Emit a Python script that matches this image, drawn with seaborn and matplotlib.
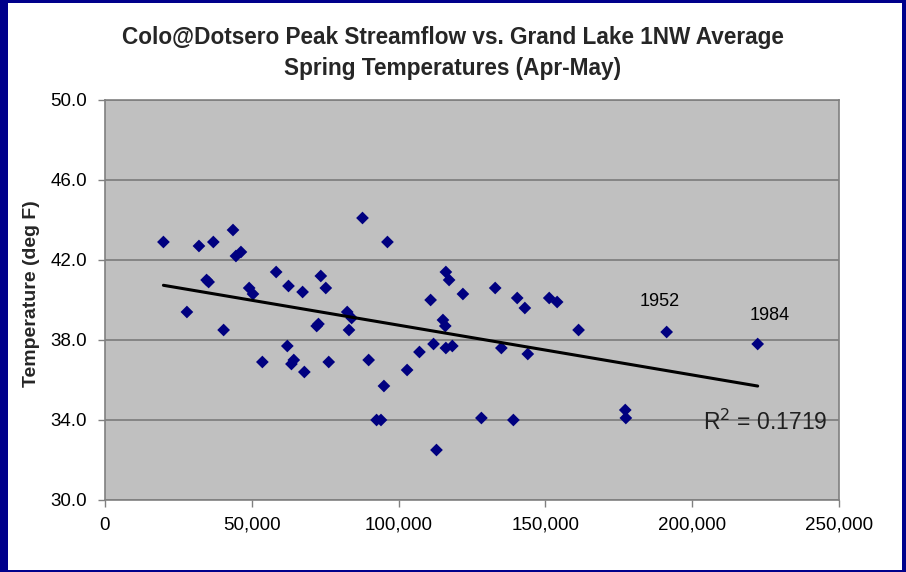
import numpy as np
import pandas as pd
import matplotlib
matplotlib.use('Agg')
import matplotlib.pyplot as plt
from matplotlib.patches import Rectangle
from matplotlib.ticker import StrMethodFormatter, FormatStrFormatter
import seaborn as sns

# peak streamflow (cfs) and average Apr-May temperature (deg F)
streamflow = [19900, 32000, 36900, 43600, 44600, 46300, 34600, 35300, 27900, 40400,
              58300, 62500, 67300, 73500, 75200, 49100, 50400, 72700, 72100, 83100,
              82500, 84000, 62100, 53600, 64300, 63500, 67900, 76200, 87700, 96200,
              116100, 117200, 110900, 121900, 132900, 140400, 143000, 151300, 154000, 161300,
              115100, 115900, 111900, 116100, 118300, 107100, 89800, 102900, 95000, 92500,
              94000, 128200, 139100, 135000, 144000, 112900, 191300, 222300, 177200, 177400]
temperature = [42.9, 42.7, 42.9, 43.5, 42.2, 42.4, 41.0, 40.9, 39.4, 38.5,
               41.4, 40.7, 40.4, 41.2, 40.6, 40.6, 40.3, 38.8, 38.7, 38.5,
               39.4, 39.1, 37.7, 36.9, 37.0, 36.8, 36.4, 36.9, 44.1, 42.9,
               41.4, 41.0, 40.0, 40.3, 40.6, 40.1, 39.6, 40.1, 39.9, 38.5,
               39.0, 38.7, 37.8, 37.6, 37.7, 37.4, 37.0, 36.5, 35.7, 34.0,
               34.0, 34.1, 34.0, 37.6, 37.3, 32.5, 38.4, 37.8, 34.5, 34.1]

labelled_years = ['1952', '1984']
label_x = [189000, 226300]
label_y = [39.95, 39.2]
r2_text = 'R$^2$ = 0.1719'

df = pd.DataFrame({'flow': streamflow, 'temp': temperature})

sns.set_style('white')
plt.rcParams['font.family'] = ['Liberation Sans', 'DejaVu Sans']

fig = plt.figure(figsize=(9.06, 5.72), dpi=100)
fig.patch.set_facecolor('#00008B')
fig.patches.append(Rectangle((8 / 906, 2 / 572), 894 / 906, 567 / 572,
                             transform=fig.transFigure, facecolor='white',
                             edgecolor='none', zorder=-1))

ax = fig.add_axes([105 / 906, 1 - 500 / 572, 734 / 906, 400 / 572])
ax.set_facecolor('#C0C0C0')

sns.regplot(data=df, x='flow', y='temp', ax=ax, ci=None, marker='D',
            scatter_kws={'s': 42, 'color': '#000080', 'alpha': 1,
                         'edgecolors': 'none', 'zorder': 3},
            line_kws={'color': 'black', 'linewidth': 2.2, 'zorder': 4})

ax.set_xlim(0, 250000)
ax.set_ylim(30, 50)
ax.set_xticks(np.arange(0, 250001, 50000))
ax.set_yticks(np.arange(30, 50.1, 4))
ax.xaxis.set_major_formatter(StrMethodFormatter('{x:,.0f}'))
ax.yaxis.set_major_formatter(FormatStrFormatter('%.1f'))
ax.grid(axis='y', color='#808080', linewidth=1.3)
ax.set_axisbelow(True)
for s in ax.spines.values():
    s.set_color('#808080')
    s.set_linewidth(1.2)
ax.tick_params(axis='both', which='major', direction='out', length=5, width=1,
               color='#808080', labelsize=13.5, labelcolor='black', pad=6)
ax.tick_params(axis='x', bottom=True, pad=7)
ax.tick_params(axis='y', left=True, pad=8)

ax.set_xlabel('')
ax.set_ylabel('Temperature (deg F)', fontsize=14, fontweight='bold')
ax.yaxis.set_label_coords(-0.088, 0.515)

for yr, lx, ly in zip(labelled_years, label_x, label_y):
    ax.text(lx, ly, yr, ha='center', va='center', fontsize=13, color='black')
ax.text(225000, 33.9, r2_text, ha='center', va='center', fontsize=16.5, color='#202020')

fig.text(0.5, 1 - 53 / 572, 'Colo@Dotsero Peak Streamflow vs. Grand Lake 1NW Average\nSpring Temperatures (Apr-May)',
         ha='center', va='center', fontsize=16.3, fontweight='bold', linespacing=1.45)

fig.savefig('out.png', dpi=100, facecolor=fig.get_facecolor())
